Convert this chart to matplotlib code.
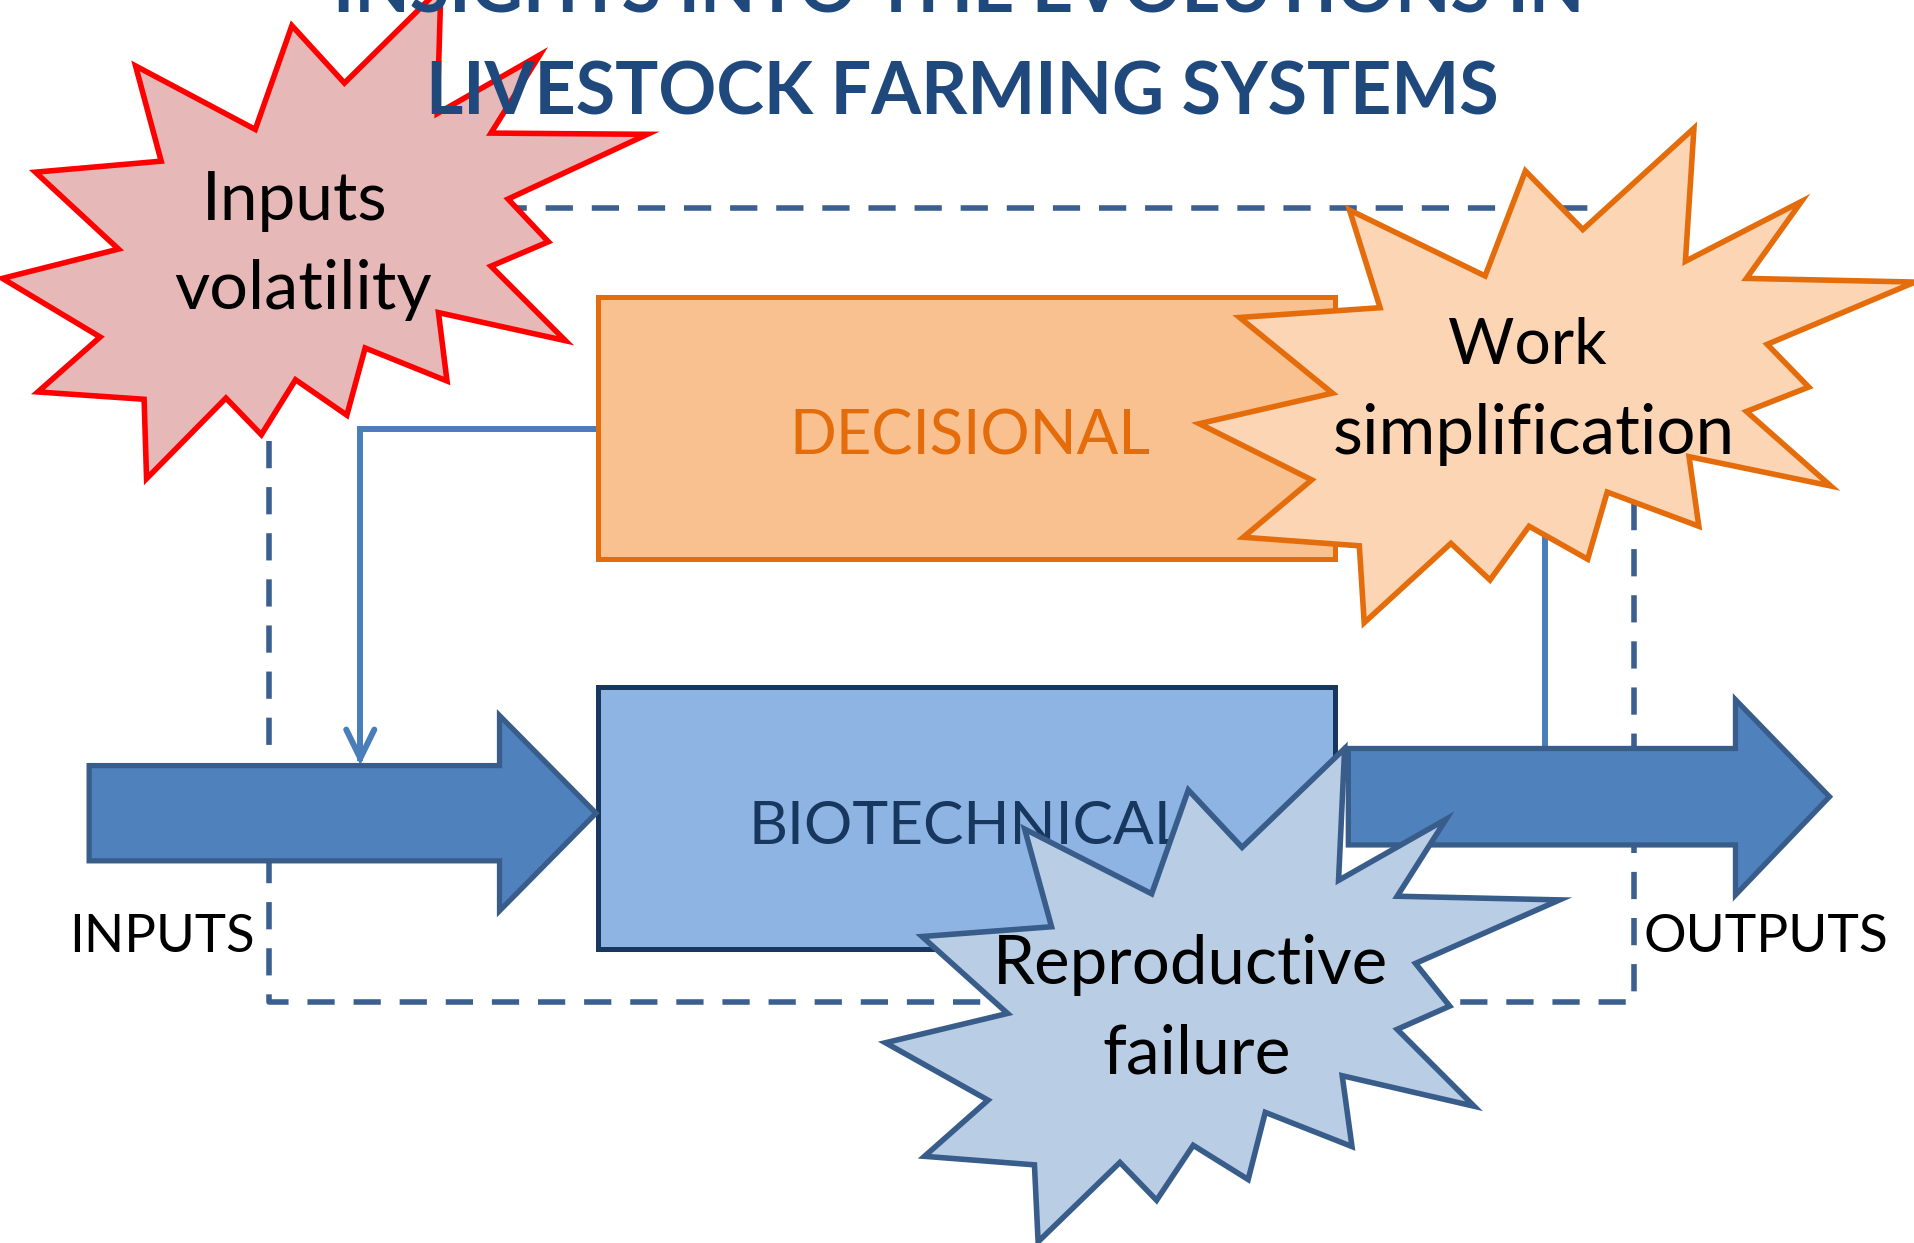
import matplotlib
matplotlib.use("Agg")
import matplotlib.pyplot as plt
from matplotlib.patches import Polygon, Rectangle

plt.rcParams['font.family'] = ['Lato', 'DejaVu Sans']

# canvas works in the units of the reference picture (1568 x 1018)
W, H = 1568, 1018
FIG_W, FIG_H = 1915, 1243

# title
title_lines = ["INSIGHTS INTO THE EVOLUTIONS IN", "LIVESTOCK FARMING SYSTEMS"]

# the two subsystem boxes: (label, x0, y0, x1, y1)
decisional_box = ("DECISIONAL", 490, 243, 1093, 458)
biotech_box = ("BIOTECHNICAL", 490, 563, 1093, 777)

# block arrows: x start, x where head begins, x tip, body top/bottom, head top/bottom
input_arrow = [73, 409, 488, 627, 705, 586, 746]
output_arrow = [1104, 1421, 1498, 613, 692, 573, 733]

# system boundary (dashed)
boundary = [220, 170, 1338, 821]

# connectors
feedback_path = [(490, 351), (295, 351), (295, 621)]
feedback_head = [(283.5, 597.5), (295, 621), (306.5, 597.5)]
output_link = [(1093, 351), (1265, 351), (1265, 613)]

# explosion shapes (vertices, clockwise)
red_star = [(361, -10), (358, 93), (442, 45), (402, 109), (530, 110), (416, 163),
            (449, 198), (402, 218), (463, 279), (359, 256), (366, 312), (299, 285),
            (284, 340), (242, 311), (214, 356), (185, 326), (120, 392), (118, 327),
            (31, 321), (82, 276), (2, 228), (97, 204), (29, 141), (132, 132),
            (111, 54), (209, 106), (239, 21), (282, 68)]
orange_star = [(1105, 172), (1216, 226), (1249, 140), (1296, 188), (1387, 105),
               (1380, 214), (1475, 165), (1430, 228), (1568, 231), (1447, 282),
               (1481, 317), (1430, 337), (1499, 398), (1383, 374), (1391, 431),
               (1316, 403), (1300, 458), (1252, 431), (1220, 475), (1188, 445),
               (1117, 510), (1113, 447), (1018, 440), (1074, 393), (982, 347),
               (1091, 322), (1015, 260), (1130, 252)]
blue_star = [(1101, 613), (1096, 721), (1184, 671), (1144, 734), (1277, 737),
             (1159, 789), (1187, 824), (1144, 843), (1207, 906), (1099, 881),
             (1107, 939), (1036, 911), (1022, 966), (977, 938), (947, 983),
             (917, 952), (850, 1017), (847, 954), (757, 947), (809, 901),
             (725, 854), (825, 830), (755, 767), (861, 759), (839, 679),
             (943, 732), (973, 647), (1017, 694)]

# star captions
red_text = ["Inputs", "volatility"]
orange_text = ["Work", "simplification"]
blue_text = ["Reproductive", "failure"]

fig = plt.figure(figsize=(FIG_W / 100, FIG_H / 100), dpi=100)
ax = fig.add_axes([0, 0, 1, 1])
ax.set_xlim(0, W)
ax.set_ylim(H, 0)
ax.axis('off')
renderer = fig.canvas.get_renderer()
px_per_unit = FIG_W / W


def fit_text(s, cx, base, width, **kw):
    # place text on its baseline, then scale font so it spans the wanted width
    t = ax.text(cx, base, s, fontsize=40, ha='center', va='baseline', **kw)
    bb = t.get_window_extent(renderer=renderer)
    t.set_fontsize(40 * width * px_per_unit / bb.width)
    return t


def block_arrow(a, z):
    x0, xh, xt, bt, bb, ht, hb = a
    mid = (bt + bb) / 2
    pts = [(x0, bt), (xh, bt), (xh, ht), (xt, mid), (xh, hb), (xh, bb), (x0, bb)]
    ax.add_patch(Polygon(pts, closed=True, facecolor='#4F81BD', edgecolor='#385D8A',
                         lw=3.8, joinstyle='miter', zorder=z))


# boundary
bx0, by0, bx1, by1 = boundary
ax.plot([bx0, bx1, bx1, bx0, bx0], [by0, by0, by1, by1, by0], color='#3B5F8E',
        lw=4.0, dashes=(4.9, 3.4), dash_capstyle='butt', zorder=1)

# connectors
ax.plot(*zip(*feedback_path), color='#4A7EBB', lw=4.3, zorder=2,
        solid_joinstyle='miter')
ax.plot(*zip(*feedback_head), color='#4A7EBB', lw=4.3, zorder=2,
        solid_capstyle='round', solid_joinstyle='miter')
ax.plot(*zip(*output_link), color='#4A7EBB', lw=4.3, zorder=2)

# boxes
lab, x0, y0, x1, y1 = decisional_box
ax.add_patch(Rectangle((x0, y0), x1 - x0, y1 - y0, facecolor='#F9C090',
                       edgecolor='#E46C0A', lw=3.6, zorder=3))
fit_text(lab, (x0 + x1) / 2 + 3, 372, 296, color='#E46C0A', zorder=4)

lab, x0, y0, x1, y1 = biotech_box
ax.add_patch(Rectangle((x0, y0), x1 - x0, y1 - y0, facecolor='#8EB4E3',
                       edgecolor='#17375E', lw=3.6, zorder=3))
fit_text(lab, (x0 + x1) / 2, 691, 358, color='#17375E', zorder=4)

# arrows
block_arrow(input_arrow, 3)
block_arrow(output_arrow, 3)

fit_text("INPUTS", 133, 780, 152, color='black', zorder=4)
fit_text("OUTPUTS", 1446, 780, 201, color='black', zorder=4)

# explosions
for pts, fc, ec in [(red_star, '#E6B9B8', '#FF0000'),
                    (orange_star, '#FCD5B5', '#E46C0A'),
                    (blue_star, '#B9CDE5', '#385D8A')]:
    ax.add_patch(Polygon(pts, closed=True, facecolor=fc, edgecolor=ec, lw=4.0,
                         joinstyle='miter', zorder=5))

fit_text(red_text[0], 241, 180, 152, color='black', zorder=6)
fit_text(red_text[1], 248, 253, 211, color='black', zorder=6)
fit_text(orange_text[0], 1251, 298, 130, color='black', zorder=6)
fit_text(orange_text[1], 1256, 372, 329, color='black', zorder=6)
fit_text(blue_text[0], 975, 806, 323, color='black', zorder=6)
fit_text(blue_text[1], 980, 879, 154, color='black', zorder=6)

# title, partly cut off at the top edge (as in the source slide)
fit_text(title_lines[0], 785, 10, 1024, color='#1F497D', fontweight='bold', zorder=7)
fit_text(title_lines[1], 788, 94, 878, color='#1F497D', fontweight='bold', zorder=7)

fig.savefig('out.png', dpi=100)
